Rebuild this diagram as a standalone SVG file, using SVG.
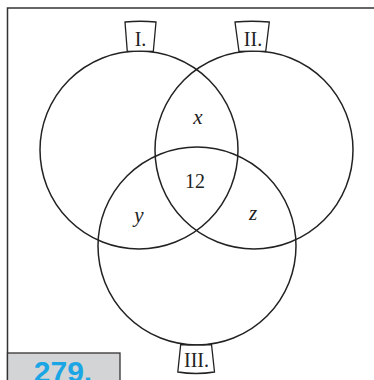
<svg xmlns="http://www.w3.org/2000/svg" width="374" height="380" viewBox="0 0 374 380">
<style>
.c{fill:none;stroke:#222;stroke-width:1.5}
.t{fill:#fff;stroke:#222;stroke-width:1.3}
.r{font-family:"Liberation Serif",serif;font-size:20px;fill:#222;text-anchor:middle}
.v{font-family:"Liberation Serif",serif;font-size:21px;font-style:italic;fill:#222;text-anchor:middle}
</style>
<rect width="374" height="380" fill="#fff"/>
<g id="frame"><path d="M7.5 380 V8 H374" fill="none" stroke="#333" stroke-width="1.5"/></g>
<g id="setI"><circle class="c" cx="139" cy="150" r="99"/><path class="t" d="M125 22 Q140.5 20.5 156 22 L153.3 51.5 Q140 50.6 127.3 51.5 Z"/><text class="r" x="140.5" y="46">I.</text></g>
<g id="setII"><circle class="c" cx="254" cy="150" r="99"/><path class="t" d="M235 22 Q252 20.5 269.3 22 L265.7 51.5 Q252.5 50.6 239 51.5 Z"/><text class="r" x="253" y="46">II.</text></g>
<g id="setIII"><circle class="c" cx="197" cy="246" r="99"/><path class="t" d="M180.7 344.5 Q196 345.5 211.5 344.5 L214.5 372 Q196 375 177.8 372 Z"/><text class="r" x="196.5" y="367">III.</text></g>
<g id="labels"><text class="v" x="198" y="124">x</text><text class="r" x="195" y="188" font-size="21">12</text><text class="v" x="139" y="222">y</text><text class="v" x="253" y="220">z</text></g>
<g id="number"><rect x="7.5" y="353" width="112.5" height="30" fill="#d3d4d6" stroke="#333" stroke-width="1.3"/><text x="63" y="382" font-family="Liberation Sans,Arial,sans-serif" font-weight="bold" font-size="30" fill="#1aa6e4" text-anchor="middle">279.</text></g>
</svg>
